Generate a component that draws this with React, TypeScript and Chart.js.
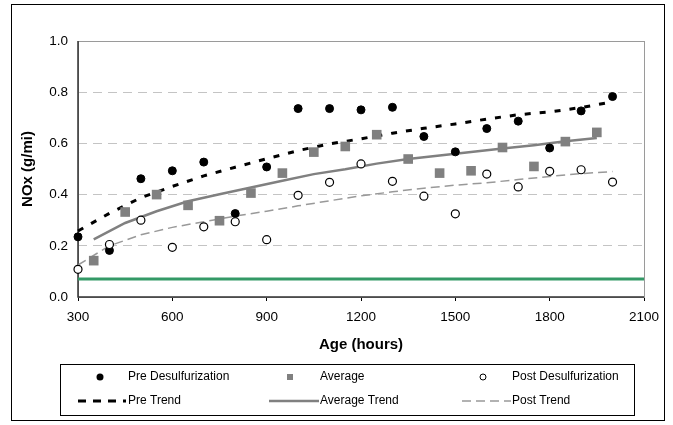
import React, { useEffect, useRef } from 'react';
import { Chart, registerables } from 'chart.js';

Chart.register(...registerables);

const FONT = '"Liberation Sans", Arial, sans-serif';

// Hours (x) for pre/post desulfurization measurements
const preX = [300, 400, 500, 600, 700, 800, 900, 1000, 1100, 1200, 1300, 1400, 1500, 1600, 1700, 1800, 1900, 2000];
const preY = [0.235, 0.182, 0.462, 0.493, 0.527, 0.326, 0.508, 0.736, 0.736, 0.731, 0.741, 0.627, 0.567, 0.658, 0.687, 0.582, 0.727, 0.783];

const avgX = [350, 450, 550, 650, 750, 850, 950, 1050, 1150, 1250, 1350, 1450, 1550, 1650, 1750, 1850, 1950];
const avgY = [0.142, 0.332, 0.4, 0.358, 0.298, 0.406, 0.484, 0.566, 0.588, 0.634, 0.539, 0.484, 0.493, 0.584, 0.51, 0.607, 0.643];

const postX = [300, 400, 500, 600, 700, 800, 900, 1000, 1100, 1200, 1300, 1400, 1500, 1600, 1700, 1800, 1900, 2000];
const postY = [0.108, 0.205, 0.3, 0.194, 0.274, 0.294, 0.224, 0.397, 0.448, 0.52, 0.452, 0.394, 0.325, 0.48, 0.43, 0.491, 0.497, 0.449];

const preTrendY = [0.258, 0.327, 0.388, 0.432, 0.473, 0.507, 0.54, 0.572, 0.598, 0.618, 0.64, 0.659, 0.676, 0.695, 0.712, 0.723, 0.74, 0.762];
const avgTrendY = [0.225, 0.289, 0.335, 0.374, 0.401, 0.428, 0.454, 0.48, 0.499, 0.521, 0.539, 0.553, 0.566, 0.58, 0.593, 0.608, 0.621];
const postTrendY = [0.125, 0.2, 0.243, 0.272, 0.294, 0.316, 0.335, 0.356, 0.376, 0.395, 0.411, 0.425, 0.437, 0.446, 0.459, 0.471, 0.482, 0.49];

const limitX = [300, 2100];
const limitY = [0.07, 0.07];

const xTitle = 'Age (hours)';
const yTitle = 'NOx (g/mi)';

const pts = (xs: number[], ys: number[]) => xs.map((x, i) => ({ x, y: ys[i] }));

const framePlugin = {
  id: 'frame',
  beforeDraw(chart: any) {
    const { ctx, width, height } = chart;
    ctx.save();
    ctx.fillStyle = '#ffffff';
    ctx.fillRect(0, 0, width, height);
    ctx.restore();
  },
  beforeDatasetsDraw(chart: any) {
    const { ctx, chartArea: a } = chart;
    ctx.save();
    ctx.strokeStyle = '#9a9a9a';
    ctx.lineWidth = 1;
    ctx.strokeRect(a.left + 0.5, a.top + 0.5, a.right - a.left, a.bottom - a.top);
    ctx.strokeStyle = '#333333';
    ctx.lineWidth = 1.5;
    ctx.beginPath();
    ctx.moveTo(a.left, a.top);
    ctx.lineTo(a.left, a.bottom);
    ctx.lineTo(a.right, a.bottom);
    ctx.stroke();
    ctx.restore();
  },
  afterDraw(chart: any) {
    const { ctx } = chart;
    const ds = chart.data.datasets;
    ctx.save();
    // outer chart border
    ctx.strokeStyle = '#000000';
    ctx.lineWidth = 1;
    ctx.strokeRect(11.5, 4.5, 653, 416);
    // legend box
    ctx.strokeStyle = '#000000';
    ctx.strokeRect(60.5, 364.5, 574, 51);
    ctx.font = '12px ' + FONT;
    ctx.fillStyle = '#000000';
    ctx.textBaseline = 'middle';
    ctx.textAlign = 'left';
    const textX = [128, 320, 512];
    const row1 = 377;
    const row2 = 401;
    // row 1 markers
    ctx.beginPath();
    ctx.arc(100, row1, 3.5, 0, Math.PI * 2);
    ctx.fillStyle = '#000000';
    ctx.fill();
    ctx.fillStyle = '#808080';
    ctx.fillRect(287, row1 - 3, 6, 6);
    ctx.beginPath();
    ctx.arc(483, row1, 3, 0, Math.PI * 2);
    ctx.fillStyle = '#ffffff';
    ctx.fill();
    ctx.strokeStyle = '#000000';
    ctx.lineWidth = 1;
    ctx.stroke();
    ctx.fillStyle = '#000000';
    ctx.fillText(ds[0].label, textX[0], row1);
    ctx.fillText(ds[1].label, textX[1], row1);
    ctx.fillText(ds[2].label, textX[2], row1);
    // row 2 line samples
    const sample = (x0: number, x1: number, color: string, w: number, dash: number[]) => {
      ctx.save();
      ctx.strokeStyle = color;
      ctx.lineWidth = w;
      ctx.setLineDash(dash);
      ctx.beginPath();
      ctx.moveTo(x0, row2);
      ctx.lineTo(x1, row2);
      ctx.stroke();
      ctx.restore();
    };
    sample(78, 126, '#000000', 3, [8, 7]);
    sample(269, 319, '#808080', 2.5, []);
    sample(462, 511, '#999999', 1.5, [9, 5]);
    ctx.fillStyle = '#000000';
    ctx.fillText(ds[3].label, textX[0], row2);
    ctx.fillText(ds[4].label, textX[1], row2);
    ctx.fillText(ds[5].label, textX[2], row2);
    ctx.restore();
  },
};

export default function App() {
  const ref = useRef<HTMLCanvasElement | null>(null);

  useEffect(() => {
    if (!ref.current) return;
    const chart = new Chart(ref.current, {
      type: 'scatter',
      data: {
        datasets: [
          {
            label: 'Pre Desulfurization',
            data: pts(preX, preY),
            pointStyle: 'circle',
            pointRadius: 4,
            pointBackgroundColor: '#000000',
            pointBorderColor: '#000000',
            pointBorderWidth: 1,
            order: 2,
            clip: false,
          },
          {
            label: 'Average',
            data: pts(avgX, avgY),
            pointStyle: 'rect',
            pointRadius: 6.8,
            pointBackgroundColor: '#808080',
            pointBorderColor: '#808080',
            pointBorderWidth: 0,
            order: 1,
            clip: false,
          },
          {
            label: 'Post Desulfurization',
            data: pts(postX, postY),
            pointStyle: 'circle',
            pointRadius: 4,
            pointBackgroundColor: '#ffffff',
            pointBorderColor: '#000000',
            pointBorderWidth: 1.2,
            order: 0,
            clip: false,
          },
          {
            label: 'Pre Trend',
            data: pts(preX, preTrendY),
            showLine: true,
            pointRadius: 0,
            borderColor: '#000000',
            borderWidth: 3,
            borderDash: [6, 9],
            order: 3,
            clip: false,
          },
          {
            label: 'Average Trend',
            data: pts(avgX, avgTrendY),
            showLine: true,
            pointRadius: 0,
            borderColor: '#808080',
            borderWidth: 2.5,
            order: 4,
            clip: false,
          },
          {
            label: 'Post Trend',
            data: pts(postX, postTrendY),
            showLine: true,
            pointRadius: 0,
            borderColor: '#999999',
            borderWidth: 1.5,
            borderDash: [9, 5],
            order: 5,
            clip: false,
          },
          {
            label: 'Limit',
            data: pts(limitX, limitY),
            showLine: true,
            pointRadius: 0,
            borderColor: '#339966',
            borderWidth: 3,
            order: 6,
            clip: false,
          },
        ],
      },
      options: {
        responsive: false,
        animation: false,
        events: [],
        layout: { padding: { left: 0, top: 41, right: 29, bottom: 68 } },
        plugins: {
          legend: { display: false },
          tooltip: { enabled: false },
          title: { display: false },
        },
        scales: {
          x: {
            type: 'linear',
            min: 300,
            max: 2100,
            afterFit: (s: any) => {
              s.height = 60;
            },
            ticks: {
              stepSize: 300,
              padding: 8,
              color: '#000000',
              font: { family: FONT, size: 13.5 },
              callback: (v: any) => String(v),
            },
            grid: {
              drawOnChartArea: false,
              drawTicks: true,
              tickLength: 4,
              tickColor: '#000000',
              tickWidth: 1,
            },
            border: { display: false },
            title: {
              display: true,
              text: xTitle,
              color: '#000000',
              font: { family: FONT, size: 15, weight: 'bold' },
              padding: { top: 0, bottom: 3 },
            },
          },
          y: {
            type: 'linear',
            min: 0,
            max: 1,
            afterFit: (s: any) => {
              s.width = 78;
            },
            ticks: {
              stepSize: 0.2,
              padding: 10,
              color: '#000000',
              font: { family: FONT, size: 13.5 },
              callback: (v: any) => Number(v).toFixed(1),
            },
            grid: {
              drawTicks: false,
              lineWidth: 1,
              color: (c: any) => {
                const v = c.tick ? c.tick.value : 0;
                return v <= 0.001 || v >= 0.999 ? 'rgba(0,0,0,0)' : '#c4c4c4';
              },
            },
            border: { display: false, dash: [9, 6] },
            title: {
              display: true,
              text: yTitle,
              color: '#000000',
              font: { family: FONT, size: 15, weight: 'bold' },
              padding: { top: 19, bottom: 0 },
            },
          },
        },
      },
      plugins: [framePlugin],
    } as any);
    return () => chart.destroy();
  }, []);

  return (
    <div style={{ position: 'fixed', left: 0, top: 0, width: 673, height: 425, background: '#fff' }}>
      <canvas ref={ref} width={673} height={425} style={{ display: 'block', width: 673, height: 425 }} />
    </div>
  );
}
